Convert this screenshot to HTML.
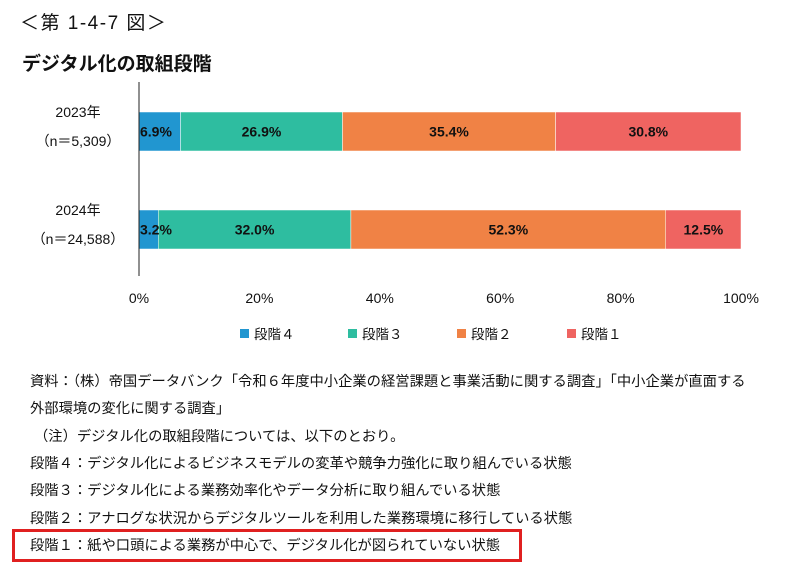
<!DOCTYPE html>
<html><head><meta charset="utf-8"><style>
body{margin:0;background:#fff;font-family:"Liberation Sans","Noto Sans CJK JP",sans-serif;color:#111;}
#root{position:relative;width:792px;height:572px;overflow:hidden;}
.t{position:absolute;white-space:nowrap;}
.note{position:absolute;left:30px;font-size:14.3px;white-space:nowrap;}
</style></head><body>
<div id="root">
<div class="t" style="left:20px;top:8px;font-size:19px;letter-spacing:1.5px;">＜第 1-4-7 図＞</div>
<div class="t" style="left:22px;top:49px;font-size:19px;font-weight:bold;">デジタル化の取組段階</div>
<svg id="chart" width="792" height="350" style="position:absolute;left:0;top:0;font-family:'Liberation Sans','Noto Sans CJK JP',sans-serif;"></svg>
<div class="note" style="top:370px;">資料：（株）帝国データバンク「令和６年度中小企業の経営課題と事業活動に関する調査」「中小企業が直面する</div>
<div class="note" style="top:397px;">外部環境の変化に関する調査」</div>
<div class="note" style="top:425px;left:34px;">（注）デジタル化の取組段階については、以下のとおり。</div>
<div class="note" style="top:452px;">段階４：デジタル化によるビジネスモデルの変革や競争力強化に取り組んでいる状態</div>
<div class="note" style="top:479px;">段階３：デジタル化による業務効率化やデータ分析に取り組んでいる状態</div>
<div class="note" style="top:507px;">段階２：アナログな状況からデジタルツールを利用した業務環境に移行している状態</div>
<div class="note" style="top:534px;">段階１：紙や口頭による業務が中心で、デジタル化が図られていない状態</div>
<div style="position:absolute;left:12px;top:529px;width:504px;height:27px;border:3px solid #e02020;"></div>
</div>
<script>
const categories=["2023年","2024年"];
const sampleLabels=["（n＝5,309）","（n＝24,588）"];
const seriesNames=["段階４","段階３","段階２","段階１"];
const stage4=[6.9,3.2];
const stage3=[26.9,32.0];
const stage2=[35.4,52.3];
const stage1=[30.8,12.5];
const ticks=[0,20,40,60,80,100];
const colors=["#2196d0","#2ebda0","#f08245","#ef6461"];
const NS="http://www.w3.org/2000/svg";
const svg=document.getElementById('chart');
const x0=139,x1=741;
const xs=v=>x0+(x1-x0)*v/100;
const rowY=[112,210],bh=39;
function mk(t,a){const e=document.createElementNS(NS,t);for(const k in a)e.setAttribute(k,a[k]);svg.appendChild(e);return e;}
const series=[stage4,stage3,stage2,stage1];
categories.forEach((c,i)=>{
  let acc=0;
  series.forEach((s,j)=>{
    const r=mk('rect',{x:xs(acc),y:rowY[i],width:xs(acc+s[i])-xs(acc),height:bh,fill:colors[j],stroke:'#fff','stroke-width':0.5});
    
    
    acc+=s[i];
  });
  acc=0;
  series.forEach((s,j)=>{
    const tx=(j===0)?xs(acc)+1:(xs(acc)+xs(acc+s[i]))/2;
    const t=mk('text',{x:tx,y:rowY[i]+bh/2+5,'font-size':14,'font-weight':'bold','text-anchor':j===0?'start':'middle',fill:'#111'});
    t.textContent=s[i].toFixed(1)+'%';
    
    
    acc+=s[i];
  });
  const l=mk('text',{x:78,y:rowY[i]+5,'font-size':14,'text-anchor':'middle',fill:'#111'});
  l.textContent=c;
  
  
  const n=mk('text',{x:78,y:rowY[i]+34,'font-size':14,'text-anchor':'middle',fill:'#111'});
  n.textContent=sampleLabels[i];
  
  
});
const ax=mk('line',{x1:x0,y1:82,x2:x0,y2:276,stroke:'#222','stroke-width':1});


ticks.forEach(v=>{
  const t=mk('text',{x:xs(v),y:303,'font-size':14,'text-anchor':'middle',fill:'#111'});
  t.textContent=v+'%';
  
  
});
const lx=[240,348,457,567];
seriesNames.forEach((s,j)=>{
  const r=mk('rect',{x:lx[j],y:329,width:9,height:9,fill:colors[j]});
  
  
  const t=mk('text',{x:lx[j]+14,y:339,'font-size':13.5,fill:'#111'});
  t.textContent=s;
  
  
});
</script>
</body></html>
